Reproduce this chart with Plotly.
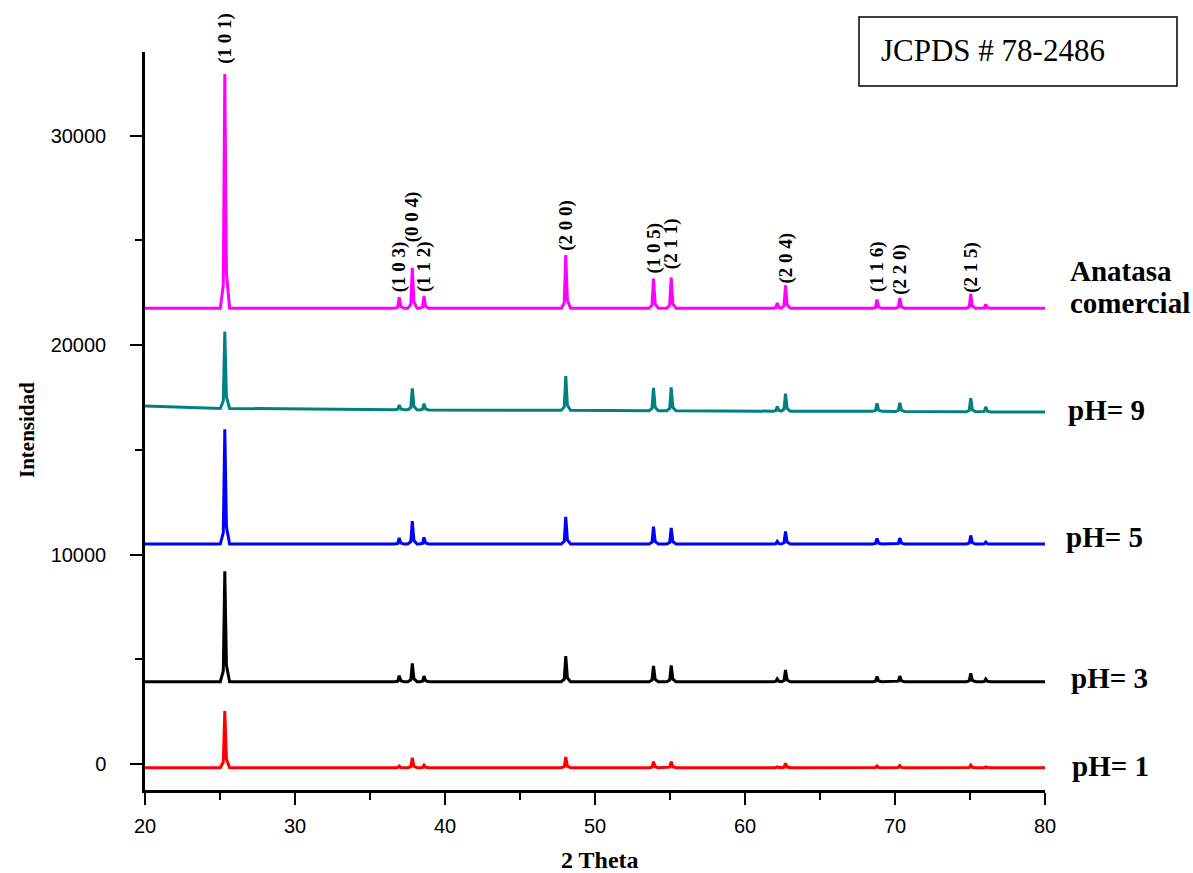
import plotly.graph_objects as go

# ---------------- data ----------------
x_start, x_end = 20, 80

# common anatase reflections (2-theta)
peak_pos = [25.32, 36.95, 37.82, 38.60, 48.05, 53.90, 55.08, 62.15, 62.70, 68.80, 70.32, 75.05, 76.05]

# Anatasa comercial
anat_base = 21760
anat_top = [32950, 22285, 23700, 22350, 24310, 23175, 23225, 22015, 22860, 22175, 22255, 22445, 21950]

# pH = 9 (slightly sloping background)
ph9_start = 17100
ph9_end = 16810
ph9_foot = [16980, 16920, 16915, 16910, 16890, 16870, 16865, 16850, 16850, 16840, 16835, 16820, 16815]
ph9_top = [20650, 17140, 17935, 17210, 18530, 17960, 17985, 17075, 17685, 17220, 17250, 17470, 17055]

# pH = 5
ph5_base = 10505
ph5_top = [15985, 10800, 11600, 10820, 11805, 11335, 11270, 10630, 11110, 10775, 10790, 10915, 10600]

# pH = 3
ph3_base = 3930
ph3_top = [9200, 4220, 4805, 4200, 5155, 4680, 4710, 4070, 4490, 4180, 4200, 4330, 4060]

# pH = 1
ph1_base = -177
ph1_top = [2530, -100, 300, -50, 335, 110, 110, -140, 33, -95, -75, -50, -140]

hkl_labels = ["(1 0 1)", "(1 0 3)", "(0 0 4)", "(1 1 2)", "(2 0 0)", "(1 0 5)", "(2 1 1)",
              "(2 0 4)", "(1 1 6)", "(2 2 0)", "(2 1 5)"]
hkl_pos = [25.32, 36.95, 37.82, 38.60, 48.05, 53.90, 55.08, 62.70, 68.80, 70.32, 75.05]

# ---------------- helpers ----------------
# peak drawing profile (offsets in degrees, fraction of height) - styling only
PROF_DX = [-0.30, -0.10, 0.0, 0.11, 0.32]
PROF_FR = [0.0, 0.10, 1.0, 0.15, 0.0]


def build(start_y, end_y, feet, tops):
    xs, ys = [x_start], [start_y]
    for p, f, t in zip(peak_pos, feet, tops):
        for dx, fr in zip(PROF_DX, PROF_FR):
            xs.append(p + dx)
            ys.append(f + fr * (t - f))
    xs.append(x_end)
    ys.append(end_y)
    return xs, ys


series = [
    ("pH= 1", "#FF0000", ph1_base, ph1_base, [ph1_base] * len(peak_pos), ph1_top),
    ("pH= 3", "#000000", ph3_base, ph3_base, [ph3_base] * len(peak_pos), ph3_top),
    ("pH= 5", "#0000FF", ph5_base, ph5_base, [ph5_base] * len(peak_pos), ph5_top),
    ("pH= 9", "#008080", ph9_start, ph9_end, ph9_foot, ph9_top),
    ("Anatasa comercial", "#FF00FF", anat_base, anat_base, [anat_base] * len(peak_pos), anat_top),
]

fig = go.Figure()
for name, color, s, e, feet, tops in series:
    xs, ys = build(s, e, feet, tops)
    fig.add_trace(go.Scatter(x=xs, y=ys, mode="lines", name=name,
                             line=dict(color=color, width=3), showlegend=False,
                             cliponaxis=True))

SERIF = "Liberation Serif, Times New Roman, serif"
SANS = "Liberation Sans, Arial, sans-serif"

# plot area in pixels: x 145..1045, y 52..790
H_PLOT = 790 - 52


def py2paper(py):
    return (790 - py) / H_PLOT


def px2paper(px):
    return (px - 145) / 900


annotations = []
# hkl labels (rotated)
hkl_center_py = [38, 267, 217, 267, 225, 248, 244, 258, 267, 269, 267]
for lab, xp, cy in zip(hkl_labels, hkl_pos, hkl_center_py):
    annotations.append(dict(x=xp, y=py2paper(cy), xref="x", yref="paper", text="<b>" + lab + "</b>",
                            textangle=-90, showarrow=False, xanchor="center", yanchor="middle",
                            font=dict(family=SERIF, size=19, color="black")))

# right-side series labels
right_labels = [("Anatasa", 1068, 271), ("comercial", 1068, 303), ("pH= 9", 1066, 410),
                ("pH= 5", 1064, 537), ("pH= 3", 1069, 678), ("pH= 1", 1070, 766)]
for txt, lx, cy in right_labels:
    annotations.append(dict(x=px2paper(lx), y=py2paper(cy), xref="paper", yref="paper",
                            text="<b>" + txt + "</b>", showarrow=False, xanchor="left", yanchor="middle",
                            font=dict(family=SERIF, size=29, color="black")))

# JCPDS box text
annotations.append(dict(x=px2paper(879), y=py2paper(50), xref="paper", yref="paper",
                        text="JCPDS # 78-2486", showarrow=False, xanchor="left", yanchor="middle",
                        font=dict(family=SERIF, size=31, color="black")))

# axis titles
annotations.append(dict(x=px2paper(600), y=py2paper(860), xref="paper", yref="paper",
                        text="<b>2 Theta</b>", showarrow=False, xanchor="center", yanchor="middle",
                        font=dict(family=SERIF, size=24, color="black")))
annotations.append(dict(x=px2paper(27), y=py2paper(430), xref="paper", yref="paper",
                        text="<b>Intensidad</b>", textangle=-90, showarrow=False, xanchor="center",
                        yanchor="middle", font=dict(family=SERIF, size=21, color="black")))

shapes = [dict(type="rect", xref="paper", yref="paper",
               x0=px2paper(859), x1=px2paper(1177), y0=py2paper(86), y1=py2paper(17),
               line=dict(color="black", width=1.5), fillcolor="rgba(0,0,0,0)")]

fig.update_layout(
    width=1193, height=873,
    margin=dict(l=145, r=148, t=52, b=83, pad=0, autoexpand=False),
    paper_bgcolor="white", plot_bgcolor="white",
    showlegend=False,
    annotations=annotations,
    shapes=shapes,
    xaxis=dict(range=[20, 80], tickvals=[20, 30, 40, 50, 60, 70, 80], ticks="outside", ticklen=12,
               tickwidth=2, tickcolor="black", showline=True, linecolor="black", linewidth=2.5,
               showgrid=False, zeroline=False, mirror=False, automargin=False,
               minor=dict(ticks="outside", ticklen=7, tickwidth=2, tickcolor="black", dtick=5, tick0=20),
               tickfont=dict(family=SANS, size=20, color="black"), ticklabelstandoff=4),
    yaxis=dict(range=[-1240, 34000], tickvals=[0, 10000, 20000, 30000], tickformat="d", ticks="outside",
               ticklen=12, tickwidth=2, tickcolor="black", showline=True, linecolor="black", linewidth=2.5,
               showgrid=False, zeroline=False, mirror=False, automargin=False,
               minor=dict(ticks="outside", ticklen=7, tickwidth=2, tickcolor="black", dtick=5000, tick0=0),
               tickfont=dict(family=SANS, size=20, color="black"), ticklabelstandoff=20),
)

fig.write_html("out.html")
